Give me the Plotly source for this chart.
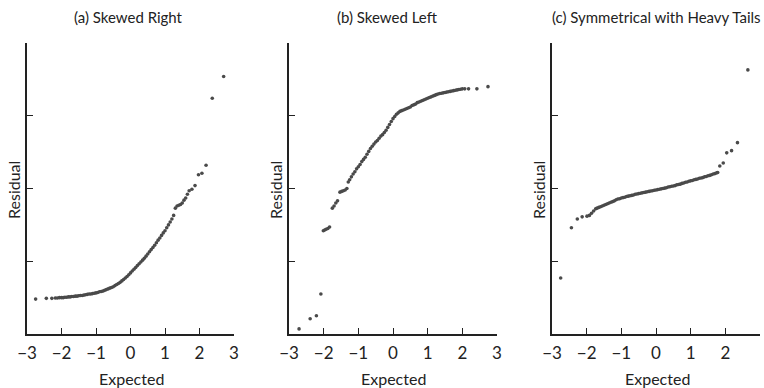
import plotly.graph_objects as go

# ---------------- data ----------------
titles = ["(a) Skewed Right", "(b) Skewed Left", "(c) Symmetrical with Heavy Tails"]
x_tick_vals = [-3, -2, -1, 0, 1, 2, 3]
x_tick_text = ["\u22123", "\u22122", "\u22121", "0", "1", "2", "3"]
y_tick_vals = [-1, 0, 1, 2]

xa = [-2.75, -2.44, -2.28, -2.18, -2.12, -2.06, -2.0, -1.95, -1.9, -1.85, -1.8, -1.75,
      -1.7, -1.65, -1.6, -1.55, -1.5, -1.45, -1.4, -1.35, -1.3, -1.25, -1.2, -1.15,
      -1.1, -1.05, -1.0, -0.95, -0.9, -0.85, -0.8, -0.75, -0.7, -0.65, -0.6, -0.55,
      -0.5, -0.45, -0.4, -0.35, -0.3, -0.25, -0.2, -0.15, -0.1, -0.05, 0.0, 0.05,
      0.1, 0.15, 0.2, 0.25, 0.3, 0.35, 0.4, 0.45, 0.5, 0.55, 0.6, 0.65, 0.7, 0.75,
      0.8, 0.85, 0.9, 0.95, 1.0, 1.05, 1.1, 1.15, 1.2, 1.25, 1.3, 1.35, 1.4, 1.45,
      1.5, 1.55, 1.6, 1.65, 1.7, 1.78, 1.87, 1.97, 2.07, 2.19, 2.37, 2.70]
ya = [-1.52, -1.51, -1.51, -1.505, -1.505, -1.50, -1.50, -1.50, -1.495, -1.495, -1.49, -1.49,
      -1.485, -1.485, -1.48, -1.48, -1.475, -1.47, -1.47, -1.465, -1.46, -1.455, -1.45, -1.45,
      -1.445, -1.44, -1.435, -1.43, -1.42, -1.415, -1.41, -1.40, -1.39, -1.38, -1.37, -1.36,
      -1.35, -1.335, -1.32, -1.305, -1.29, -1.27, -1.25, -1.23, -1.21, -1.185, -1.16, -1.135,
      -1.11, -1.085, -1.06, -1.035, -1.01, -0.985, -0.96, -0.93, -0.90, -0.87, -0.84, -0.81,
      -0.78, -0.745, -0.71, -0.68, -0.645, -0.61, -0.58, -0.54, -0.50, -0.46, -0.42, -0.37,
      -0.27, -0.24, -0.23, -0.22, -0.20, -0.16, -0.13, -0.08, -0.03, -0.01, 0.04, 0.19,
      0.21, 0.32, 1.24, 1.54]

xb = [-2.71, -2.39, -2.21, -2.08, -2.01, -1.97, -1.93, -1.88, -1.83, -1.75, -1.70, -1.65,
      -1.60, -1.53, -1.48, -1.43, -1.38, -1.33, -1.29, -1.25, -1.2, -1.15, -1.1, -1.05,
      -1.0, -0.95, -0.9, -0.85, -0.8, -0.75, -0.7, -0.65, -0.6, -0.55, -0.5, -0.45,
      -0.4, -0.35, -0.3, -0.25, -0.2, -0.15, -0.1, -0.05, 0.0, 0.05, 0.1, 0.15,
      0.2, 0.25, 0.3, 0.35, 0.4, 0.45, 0.5, 0.55, 0.6, 0.65, 0.7, 0.75, 0.8, 0.85,
      0.9, 0.95, 1.0, 1.05, 1.1, 1.15, 1.2, 1.25, 1.3, 1.35, 1.4, 1.45, 1.5, 1.55,
      1.6, 1.65, 1.7, 1.75, 1.8, 1.85, 1.9, 1.95, 2.0, 2.07, 2.18, 2.42, 2.74]
yb = [-1.93, -1.79, -1.75, -1.45, -0.58, -0.57, -0.56, -0.55, -0.53, -0.27, -0.24, -0.20,
      -0.17, -0.05, -0.04, -0.03, -0.02, 0.0, 0.09, 0.12, 0.16, 0.20, 0.23, 0.27,
      0.30, 0.33, 0.37, 0.40, 0.43, 0.47, 0.51, 0.55, 0.58, 0.61, 0.64, 0.66,
      0.69, 0.72, 0.74, 0.77, 0.80, 0.84, 0.88, 0.92, 0.96, 0.99, 1.02, 1.04,
      1.06, 1.07, 1.08, 1.09, 1.10, 1.11, 1.12, 1.14, 1.15, 1.16, 1.18, 1.19, 1.20, 1.21,
      1.22, 1.23, 1.24, 1.25, 1.26, 1.27, 1.28, 1.29, 1.30, 1.305, 1.31, 1.315, 1.32, 1.325,
      1.33, 1.335, 1.34, 1.345, 1.35, 1.355, 1.36, 1.365, 1.37, 1.37, 1.37, 1.37, 1.40]

xc = [-2.75, -2.44, -2.27, -2.13, -1.99, -1.92, -1.86, -1.8, -1.74, -1.7, -1.65, -1.6,
      -1.55, -1.5, -1.45, -1.4, -1.35, -1.3, -1.25, -1.2, -1.15, -1.1, -1.05, -1.0,
      -0.95, -0.9, -0.85, -0.8, -0.75, -0.7, -0.65, -0.6, -0.55, -0.5, -0.45, -0.4,
      -0.35, -0.3, -0.25, -0.2, -0.15, -0.1, -0.05, 0.0, 0.05, 0.1, 0.15, 0.2,
      0.25, 0.3, 0.35, 0.4, 0.45, 0.5, 0.55, 0.6, 0.65, 0.7, 0.75, 0.8, 0.85, 0.9,
      0.95, 1.0, 1.05, 1.1, 1.15, 1.2, 1.25, 1.3, 1.35, 1.4, 1.45, 1.5, 1.55, 1.6,
      1.65, 1.7, 1.75, 1.78, 1.84, 1.94, 2.04, 2.18, 2.35, 2.65]
yc = [-1.23, -0.54, -0.42, -0.39, -0.38, -0.37, -0.34, -0.31, -0.28, -0.27, -0.26, -0.25,
      -0.24, -0.23, -0.22, -0.21, -0.20, -0.19, -0.18, -0.17, -0.155, -0.145, -0.14, -0.13,
      -0.125, -0.12, -0.11, -0.105, -0.10, -0.095, -0.09, -0.08, -0.075, -0.07, -0.065, -0.06,
      -0.055, -0.05, -0.045, -0.04, -0.035, -0.03, -0.025, -0.02, -0.015, -0.01, -0.005, 0.0,
      0.005, 0.01, 0.02, 0.025, 0.03, 0.035, 0.04, 0.05, 0.055, 0.06, 0.07, 0.075, 0.085, 0.09,
      0.10, 0.105, 0.11, 0.12, 0.125, 0.13, 0.14, 0.145, 0.15, 0.16, 0.165, 0.175, 0.18, 0.19,
      0.20, 0.205, 0.215, 0.22, 0.31, 0.35, 0.49, 0.52, 0.63, 1.63]

series = [(xa, ya), (xb, yb), (xc, yc)]

# ---------------- layout ----------------
W, H = 764, 388
FONT = "Lato, Open Sans, sans-serif"
TXT = "#222222"
x_domains = [[27 / W, 234 / W], [289 / W, 497 / W], [552 / W, 760 / W]]
y_domain = [(H - 334) / H, (H - 43) / H]
title_cx = [128, 387, 656]
xt_cx = [131, 393, 657]
yt_x = [13, 275, 538]

fig = go.Figure()
layout = dict(
    width=W, height=H, margin=dict(l=0, r=0, t=0, b=0, autoexpand=False),
    paper_bgcolor="white", plot_bgcolor="white", showlegend=False,
    font=dict(family=FONT, color=TXT, size=15),
)
annotations = []
for i, (xs, ys) in enumerate(series):
    sx = "" if i == 0 else str(i + 1)
    fig.add_trace(go.Scatter(
        x=xs, y=ys, mode="markers", xaxis="x" + sx, yaxis="y" + sx,
        marker=dict(size=3.6, color="#4a4a4a", line=dict(width=0)),
        cliponaxis=False, hoverinfo="skip"))
    layout["xaxis" + sx] = dict(
        domain=x_domains[i], range=[-3, 3], anchor="y" + sx, automargin=False,
        tickvals=x_tick_vals, ticktext=x_tick_text, ticks="inside", ticklen=6,
        tickwidth=1.3, tickcolor="#222", showline=True, linecolor="#222", linewidth=1.5,
        showgrid=False, zeroline=False, tickfont=dict(size=17, color=TXT, family=FONT),
        ticklabelstandoff=3, fixedrange=True)
    layout["yaxis" + sx] = dict(
        domain=y_domain, range=[-2, 2], anchor="x" + sx, automargin=False,
        tickvals=y_tick_vals, showticklabels=False, ticks="inside", ticklen=6,
        tickwidth=1.3, tickcolor="#222", showline=True, linecolor="#222", linewidth=1.5,
        showgrid=False, zeroline=False, fixedrange=True)
    annotations.append(dict(
        text=titles[i], x=title_cx[i] / W, y=1 - 17 / H, xref="paper", yref="paper",
        showarrow=False, xanchor="center", yanchor="middle",
        font=dict(size=15, color=TXT, family=FONT)))
    annotations.append(dict(
        text="Expected", x=xt_cx[i] / W, y=1 - 378 / H, xref="paper", yref="paper",
        showarrow=False, xanchor="center", yanchor="middle",
        font=dict(size=16, color=TXT, family=FONT)))
    annotations.append(dict(
        text="Residual", x=yt_x[i] / W, y=1 - 190 / H, xref="paper", yref="paper",
        showarrow=False, xanchor="center", yanchor="middle", textangle=-90,
        font=dict(size=16, color=TXT, family=FONT)))
layout["annotations"] = annotations
fig.update_layout(**layout)
fig.write_html("out.html")
